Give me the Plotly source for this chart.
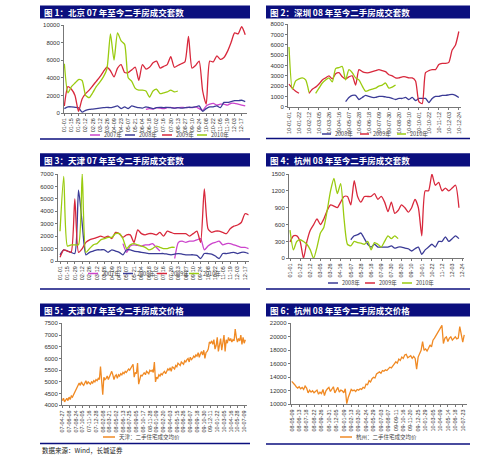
import plotly.graph_objects as go

N = None

# ---------------- data ----------------
# Panel 1: Beijing weekly second-hand transactions (week index from 01-01)
bj_ticks = ["01-01", "01-15", "01-29", "02-12", "02-26", "03-12", "03-26", "04-09", "04-23",
            "05-07", "05-21", "06-04", "06-18", "07-02", "07-16", "07-30", "08-13", "08-27",
            "09-10", "09-24", "10-08", "10-22", "11-05", "11-19", "12-03", "12-17"]
bj_2007 = [N] * 23 + [400, 500, 450, 600, 550, 500, 600, 650, 550, 600, 650, 600, 650, 600, 700,
                      500, 300, 800, 1000, 1100, 900, 1000, 1000, 900, 1100, 1100, 1000, 900, 800]
bj_2008 = [500, 700, 700, 650, 600, 100, 300, 400, 450, 500, 550, 600, 650, 600, 700, 800, 500, 700,
           500, 800, 700, 600, 550, 700, 600, 500, 600, 650, 600, 650, 600, 550, 600, 550, 600, 650,
           650, 700, 800, 200, 500, 700, 700, 800, 600, 1200, 1200, 1300, 1400, 1400, 1450, 1300]
bj_2009 = [800, 3000, 2700, 2000, 200, 1600, 2200, 2600, 3100, 3600, 4100, 4700, 5200, 4800, 4100,
           5100, 5500, 4600, 4600, 4900, 5200, 3700, 5500, 5000, 5200, 5700, 5900, 5100, 5300, 5500,
           6400, 5200, 5400, 5600, 5800, 8700, 5100, 5400, 5900, 2500, 1000, 5900, 5800, 6500, 6100,
           6300, 7000, 8000, 9100, 9000, 9800, 8900]
bj_2010 = [5600, 2300, 3000, 3400, 3800, 3700, 2000, 1750, 2300, 3000, 3500, 4100, 5000, 9000, 6000,
           9100, 8200, 7800, 4000, 3600, 2800, 2600, 2600, 2500, 1800, 2500, 2700, 2200, 2300, 2400,
           2600, 2400, 2500]

# Panel 2: Shenzhen
sz_ticks = ["10-01-01", "10-01-22", "10-02-12", "10-03-05", "10-03-26", "10-04-16", "10-05-07",
            "10-05-28", "10-06-18", "10-07-09", "10-07-30", "10-08-20", "10-09-10", "10-10-01",
            "10-10-22", "10-11-12", "10-12-03", "10-12-24"]
sz_2008 = [N] * 17 + [500, 900, 1100, 1100, 700, 900, 1100, 1000, 900, 900, 1000, 1000, 950, 900, 800,
                      700, 800, 800, 900, 700, 900, 600, 800, 800, 800, 400, 800, 1000, 1000, 1100,
                      1100, 1150, 1200, 1100, 900]
sz_2009 = [2200, 1800, 1500, 1300, N, N, 1300, 1700, 1900, 2200, 2600, 2800, 3000, 2700, 3200, 3300,
           2900, 2700, 2900, 3000, 2100, 3600, 3400, 3300, 3300, 3400, 3500, 3600, 3500, 3400, 3100,
           3000, 2800, 2800, 2900, 2900, 2800, 2800, 2500, 500, 300, 3300, 3500, 3600, 3600, 4100,
           4200, 4200, 4300, 5500, 6000, 7300]
sz_2010 = [5800, 1700, 2500, 2700, 2800, 2600, 1400, N, 1300, 1800, 2300, 2600, 2800, 2400, 3700,
           3800, 3900, 2600, 3600, 3300, 2800, 2600, 2000, 1500, 1600, 1700, 1800, 2000, 2100, 2300,
           1800, 1900, 2100]

# Panel 3: Tianjin
tj_ticks = bj_ticks
tj_2007 = [N] * 17 + [1400, 700, 1200, 1300, 1250, 1200, 1300, 1300, 1400, 1100, 800, N, N, N, 200,
                      1500, 1600, 1500, 1600, 1600, 1700, 1800, 900, 1200, 1400, 1500, 1600, 1300,
                      1400, 1400, 1300, 1200, 1100, 1100, 1000]
tj_2008 = [500, 900, 800, 700, 600, 5700, 3000, 500, 700, 800, 900, 900, 900, 700, 900, 800, 700, 500,
           900, 900, 800, 750, 700, 650, 600, 600, 600, 600, 600, 550, 500, 550, 600, 550, 500, 500,
           500, 450, 200, 600, 600, 550, 400, 200, 600, 600, 650, 700, 600, 700, 700, 600]
tj_2009 = [300, 900, 800, 700, 5000, 700, 1000, 1500, 1700, 1800, 1900, 2000, 1900, 2000, 1800, 2300,
           2200, 1900, 2100, 2100, 1500, 2500, 2200, 2100, 2200, 2200, 2100, 2300, 2000, 2400, 2300,
           2200, 2200, 2200, 2200, 2000, 2200, 2400, 1500, 5800, 2600, 2300, 2400, 2400, 2300, 2200,
           2600, 2800, 2900, 3100, 3800, 3700]
tj_2010 = [2400, 6800, 1200, 1300, 1300, 1300, 7000, 700, 1000, 1300, 1400, 1700, 1800, 1900, 1900,
           2200, 2200, 1800, 1000, 1300, 1400, 1300, 1200, 1100, 900, 1000, 1200, 1100, 1000, 1000,
           1100, 1100]

# Panel 4: Hangzhou
hz_ticks = ["01-01", "01-22", "02-12", "03-05", "03-26", "04-16", "05-07", "05-28", "06-18",
            "07-09", "07-30", "08-20", "09-10", "10-01", "10-22", "11-12", "12-03", "12-24"]
hz_2008 = [N] * 18 + [330, 400, 420, 450, 350, 250, 200, 250, 200, 200, 200, 200, 220, 180, 200, 200,
                      180, 170, 130, 170, 200, 70, 150, 200, 250, 200, 300, 300, 380, 300, 350, 400,
                      350]
hz_2009 = [290, 400, 400, 300, 0, 300, 500, 600, 700, 600, 700, 850, 950, 930, 900, 1000, 1100, 1100,
           950, 1380, 1100, 1000, 1100, 1100, 1100, 1150, 1050, 1100, 1000, 830, 1000, 800, 850, 950,
           900, 820, 900, 1050, 900, 400, 1200, 1200, 1500, 1300, 1350, 1200, 1250, 1200, 1250, 1300,
           900]
hz_2010 = [500, 150, 300, 330, 300, 250, 150, 0, 200, 450, 550, 850, 1200, 1420, 1150, 1330, 700, 250,
           220, 300, 280, 270, 250, 300, 150, 280, 250, 200, 300, 400, 350, 400, 350]

# Panel 5: Tianjin weekly average price
tjp_ticks = ["07-04-27", "07-06-08", "07-08-24", "07-10-05", "07-11-16", "07-12-28", "08-02-08",
             "08-03-21", "08-05-02", "08-06-13", "08-07-25", "08-09-05", "08-10-17", "08-11-28",
             "09-01-09", "09-02-20", "09-04-03", "09-05-15", "09-06-26", "09-08-07", "09-09-18",
             "09-10-30", "09-12-11", "10-01-22", "10-03-05", "10-04-16", "10-05-28", "10-07-09"]
tj_price = [4200, 4300, 4150, 4250, 4300, 4200, 4350, 4250, 4400, 4350,
            4450, 4500, 4600, 4700, 4800, 4950, 4850, 5000, 4900, 4850,
            4950, 5050, 4900, 5000, 4950, 4900, 5000, 4950, 5050, 5000,
            5100, 5050, 5150, 5100, 5650, 5000, 4450, 5200, 5100, 5150,
            5250, 5100, 5200, 5350, 5450, 5300, 5100, 5250, 5300, 5150,
            5300, 5250, 5350, 5300, 5400, 5350, 5450, 5400, 5500, 5550,
            5500, 5600, 5650, 5750, 5200, 5400, 5350, 5800, 4900, 5100,
            5300, 5250, 5350, 5400, 5300, 5450, 5400, 5350, 5500, 5450,
            5500, 5400, 5850, 5000, 5200, 5150, 5300, 5250, 5350, 5300,
            5400, 5450, 5350, 5500, 5550, 5500, 5600, 5450, 5650, 5600,
            5550, 5700, 5650, 5800, 5750, 5700, 5850, 5800, 5750, 5900,
            5850, 5950, 6000, 5850, 6050, 5950, 6000, 6100, 6050, 6150,
            6100, 6250, 6050, 6200, 6300, 6150, 6350, 6000, 6250, 6300,
            6400, 6700, 6650, 6750, 6600, 6800, 6400, 6550, 6900, 6300,
            6700, 6850, 6350, 6600, 7000, 6300, 6800, 6650, 6900, 6750,
            6850, 6700, 6800, 6750, 7250, 6900, 6700, 6850, 6750, 7000,
            6600, 6900, 6650, 6800]

# Panel 6: Hangzhou weekly average price
hzp_ticks = ["08-05-09", "08-06-13", "08-07-18", "08-08-22", "08-09-26", "08-10-31", "08-12-05",
             "09-01-09", "09-02-13", "09-03-20", "09-04-24", "09-05-29", "09-07-03", "09-08-07",
             "09-09-11", "09-10-16", "09-11-20", "09-12-25", "10-01-29", "10-03-05", "10-04-09",
             "10-05-14", "10-06-18", "10-07-23"]
hz_price = [13400, 13200, 12900, 12600, 12400, 12600, 12300, 12500, 12200, 12700,
            12400, 11700, 12100, 11800, 12000, 11700, 11900, 12100, 11500, 11800,
            11600, 12200, 11300, 12000, 12300, 12500, 11900, 12200, 12600, 11700,
            12200, 12500, 11800, 12100, 12000, 11700, 12300, 10100, 11000, 11800,
            12200, 12000, 12100, 11900, 12200, 12100, 12300, 12200, 12500, 12400,
            13000, 12900, 13500, 13300, 13800, 14000, 13900, 14500, 14700, 14800,
            14600, 15000, 14900, 15100, 15000, 15300, 15500, 15400, 15800, 16000,
            16300, 16100, 16700, 16500, 17000, 16800, 17300, 17400, 16900, 17000,
            17200, 16800, 17100, 16800, 15200, 17000, 17600, 18000, 19300, 18000,
            18200, 17900, 18300, 18800, 18500, 19500, 19800, 20200, 20500, 21000,
            21500, 21700, 19000, 19800, 20000, 19300, 19800, 20000, 19500, 19800,
            20000, 19700, 19800, 21500, 20300, 19200, 20300]

titles = ["图 1：北京 07 年至今二手房成交套数", "图 2：深圳 08 年至今二手房成交套数",
          "图 3：天津 07 年至今二手房成交套数", "图 4：杭州 08 年至今二手房成交套数",
          "图 5：天津 07 年至今二手房成交价格", "图 6：杭州 08 年至今二手房成交价格"]

C07, C08, C09, C10 = "#cc44cc", "#3b3b96", "#d8283c", "#9acb10"
CP = "#f08a24"
NAVY = "#0b0f7e"

# ---------------- layout helpers ----------------
W, H = 499, 460
def xd(a, b):
    return [a / W, b / W]
def yd(top, bottom):
    return [1 - bottom / H, 1 - top / H]

panels = [
    dict(x=(64, 247), y=(25, 113), xr=[-0.1, 51.5], yr=[0, 10000], dt=2000, step=2, tt=bj_ticks,
         series=[(bj_2007, C07), (bj_2008, C08), (bj_2009, C09), (bj_2010, C10)], spline=True),
    dict(x=(288, 460.5), y=(24.3, 106.7), xr=[-0.3, 51.5], yr=[0, 8000], dt=1000, step=3, tt=sz_ticks,
         series=[(sz_2008, C08), (sz_2009, C09), (sz_2010, C10)], spline=True),
    dict(x=(57.8, 248.7), y=(174, 261), xr=[-0.6, 51], yr=[0, 7000], dt=1000, step=2, tt=tj_ticks,
         series=[(tj_2007, C07), (tj_2008, C08), (tj_2009, C09), (tj_2010, C10)], spline=True),
    dict(x=(289, 464), y=(174, 258.3), xr=[-0.3, 51.5], yr=[0, 1500], dt=300, step=3, tt=hz_ticks,
         series=[(hz_2008, C08), (hz_2009, C09), (hz_2010, C10)], spline=True),
    dict(x=(62, 247), y=(323.3, 405.3), xr=[-0.3, 164.5], yr=[4000, 7500], dt=500, step=6, tt=tjp_ticks,
         series=[(tj_price, CP)], spline=False),
    dict(x=(290.7, 467.2), y=(323.3, 404.3), xr=[-0.7, 118], yr=[10000, 22000], dt=2000, step=5,
         tt=hzp_ticks, series=[(hz_price, CP)], spline=False),
]

fig = go.Figure()
layout = dict(width=W, height=H, margin=dict(l=0, r=0, t=0, b=0, autoexpand=False),
              paper_bgcolor="white", plot_bgcolor="white", showlegend=False,
              font=dict(family="Liberation Sans", color="#222"))
shapes, annos = [], []

for i, p in enumerate(panels, start=1):
    xa = "x" if i == 1 else f"x{i}"
    ya = "y" if i == 1 else f"y{i}"
    for vals, col in p["series"]:
        line = dict(color=col, width=1.3)
        if p["spline"]:
            line.update(shape="spline", smoothing=0.6)
        fig.add_trace(go.Scatter(x=list(range(len(vals))), y=vals, mode="lines", line=line,
                                 xaxis=xa, yaxis=ya, hoverinfo="skip"))
    tv = [k * p["step"] for k in range(len(p["tt"]))]
    layout["xaxis" if i == 1 else f"xaxis{i}"] = dict(
        domain=xd(*p["x"]), range=p["xr"], anchor=ya, tickvals=tv, ticktext=p["tt"], tickangle=-90,
        tickfont=dict(size=5.5, color="#333"), showgrid=False, zeroline=False, showline=True,
        linecolor="#777", linewidth=1, ticks="outside", ticklen=2, tickcolor="#777",
        automargin=False)
    layout["yaxis" if i == 1 else f"yaxis{i}"] = dict(
        domain=yd(*p["y"]), range=p["yr"], anchor=xa, dtick=p["dt"], tick0=p["yr"][0],
        tickformat="d", tickfont=dict(size=6, color="#333"), showgrid=False, zeroline=False,
        showline=True, linecolor="#777", linewidth=1, ticks="outside", ticklen=2, tickcolor="#777",
        automargin=False)

# title bars
bars = [(40, 250, 5.5, 18.5), (266, 470, 5.5, 18.5), (40, 250, 153.3, 166.5),
        (266, 470, 153.3, 166.5), (40, 250, 303.5, 316.5), (266, 470, 303.5, 316.5)]
for (x0, x1, y0, y1), t in zip(bars, titles):
    shapes.append(dict(type="rect", xref="paper", yref="paper", x0=x0 / W, x1=x1 / W,
                       y0=1 - y1 / H, y1=1 - y0 / H, fillcolor=NAVY, line=dict(width=0)))
    annos.append(dict(xref="paper", yref="paper", x=(x0 + 2) / W, y=1 - (y0 + y1) / 2 / H,
                      xanchor="left", yanchor="middle", showarrow=False, text="<b>" + t + "</b>",
                      font=dict(family="Noto Sans CJK SC", size=8.5, color="white")))

# bottom separator lines
for x0, x1, yy in [(40, 250, 139), (266, 470, 138.5), (40, 250, 289), (266, 470, 289),
                   (40, 250, 443.5), (266, 470, 444)]:
    shapes.append(dict(type="line", xref="paper", yref="paper", x0=x0 / W, x1=x1 / W,
                       y0=1 - yy / H, y1=1 - yy / H, line=dict(color=NAVY, width=1.5)))

# legends
legends = [
    (135, [(90, C07, "2007年"), (125, C08, "2008年"), (162, C09, "2009年"), (197, C10, "2010年")], 10),
    (134, [(322, C08, "2008年"), (360, C09, "2009年"), (397, C10, "2010年")], 9),
    (273.5, [(88, C07, "2007年"), (123, C08, "2008年"), (157, C09, "2009年"), (189, C10, "2010年")], 10),
    (283, [(328, C08, "2008年"), (365, C09, "2009年"), (402, C10, "2010年")], 10),
    (437, [(103, CP, "天津：二手住宅成交均价")], 12),
    (437, [(340, CP, "杭州：二手住宅成交均价")], 12),
]
for yy, items, ln in legends:
    for x0, col, txt in items:
        shapes.append(dict(type="line", xref="paper", yref="paper", x0=x0 / W, x1=(x0 + ln) / W,
                           y0=1 - yy / H, y1=1 - yy / H, line=dict(color=col, width=1.5)))
        annos.append(dict(xref="paper", yref="paper", x=(x0 + ln + 1.5) / W, y=1 - yy / H,
                          xanchor="left", yanchor="middle", showarrow=False, text=txt,
                          font=dict(family="Noto Sans CJK SC", size=5.5, color="#444")))

annos.append(dict(xref="paper", yref="paper", x=40 / W, y=1 - 450 / H, xanchor="left",
                  yanchor="middle", showarrow=False, text="数据来源：Wind，长城证券",
                  font=dict(family="Noto Sans CJK SC", size=6.5, color="#222")))

layout["shapes"] = shapes
layout["annotations"] = annos
fig.update_layout(**layout)
fig.write_html("out.html", config={"displayModeBar": False, "staticPlot": True},
               post_script="document.body.style.margin='0';document.body.style.overflow='hidden';")
